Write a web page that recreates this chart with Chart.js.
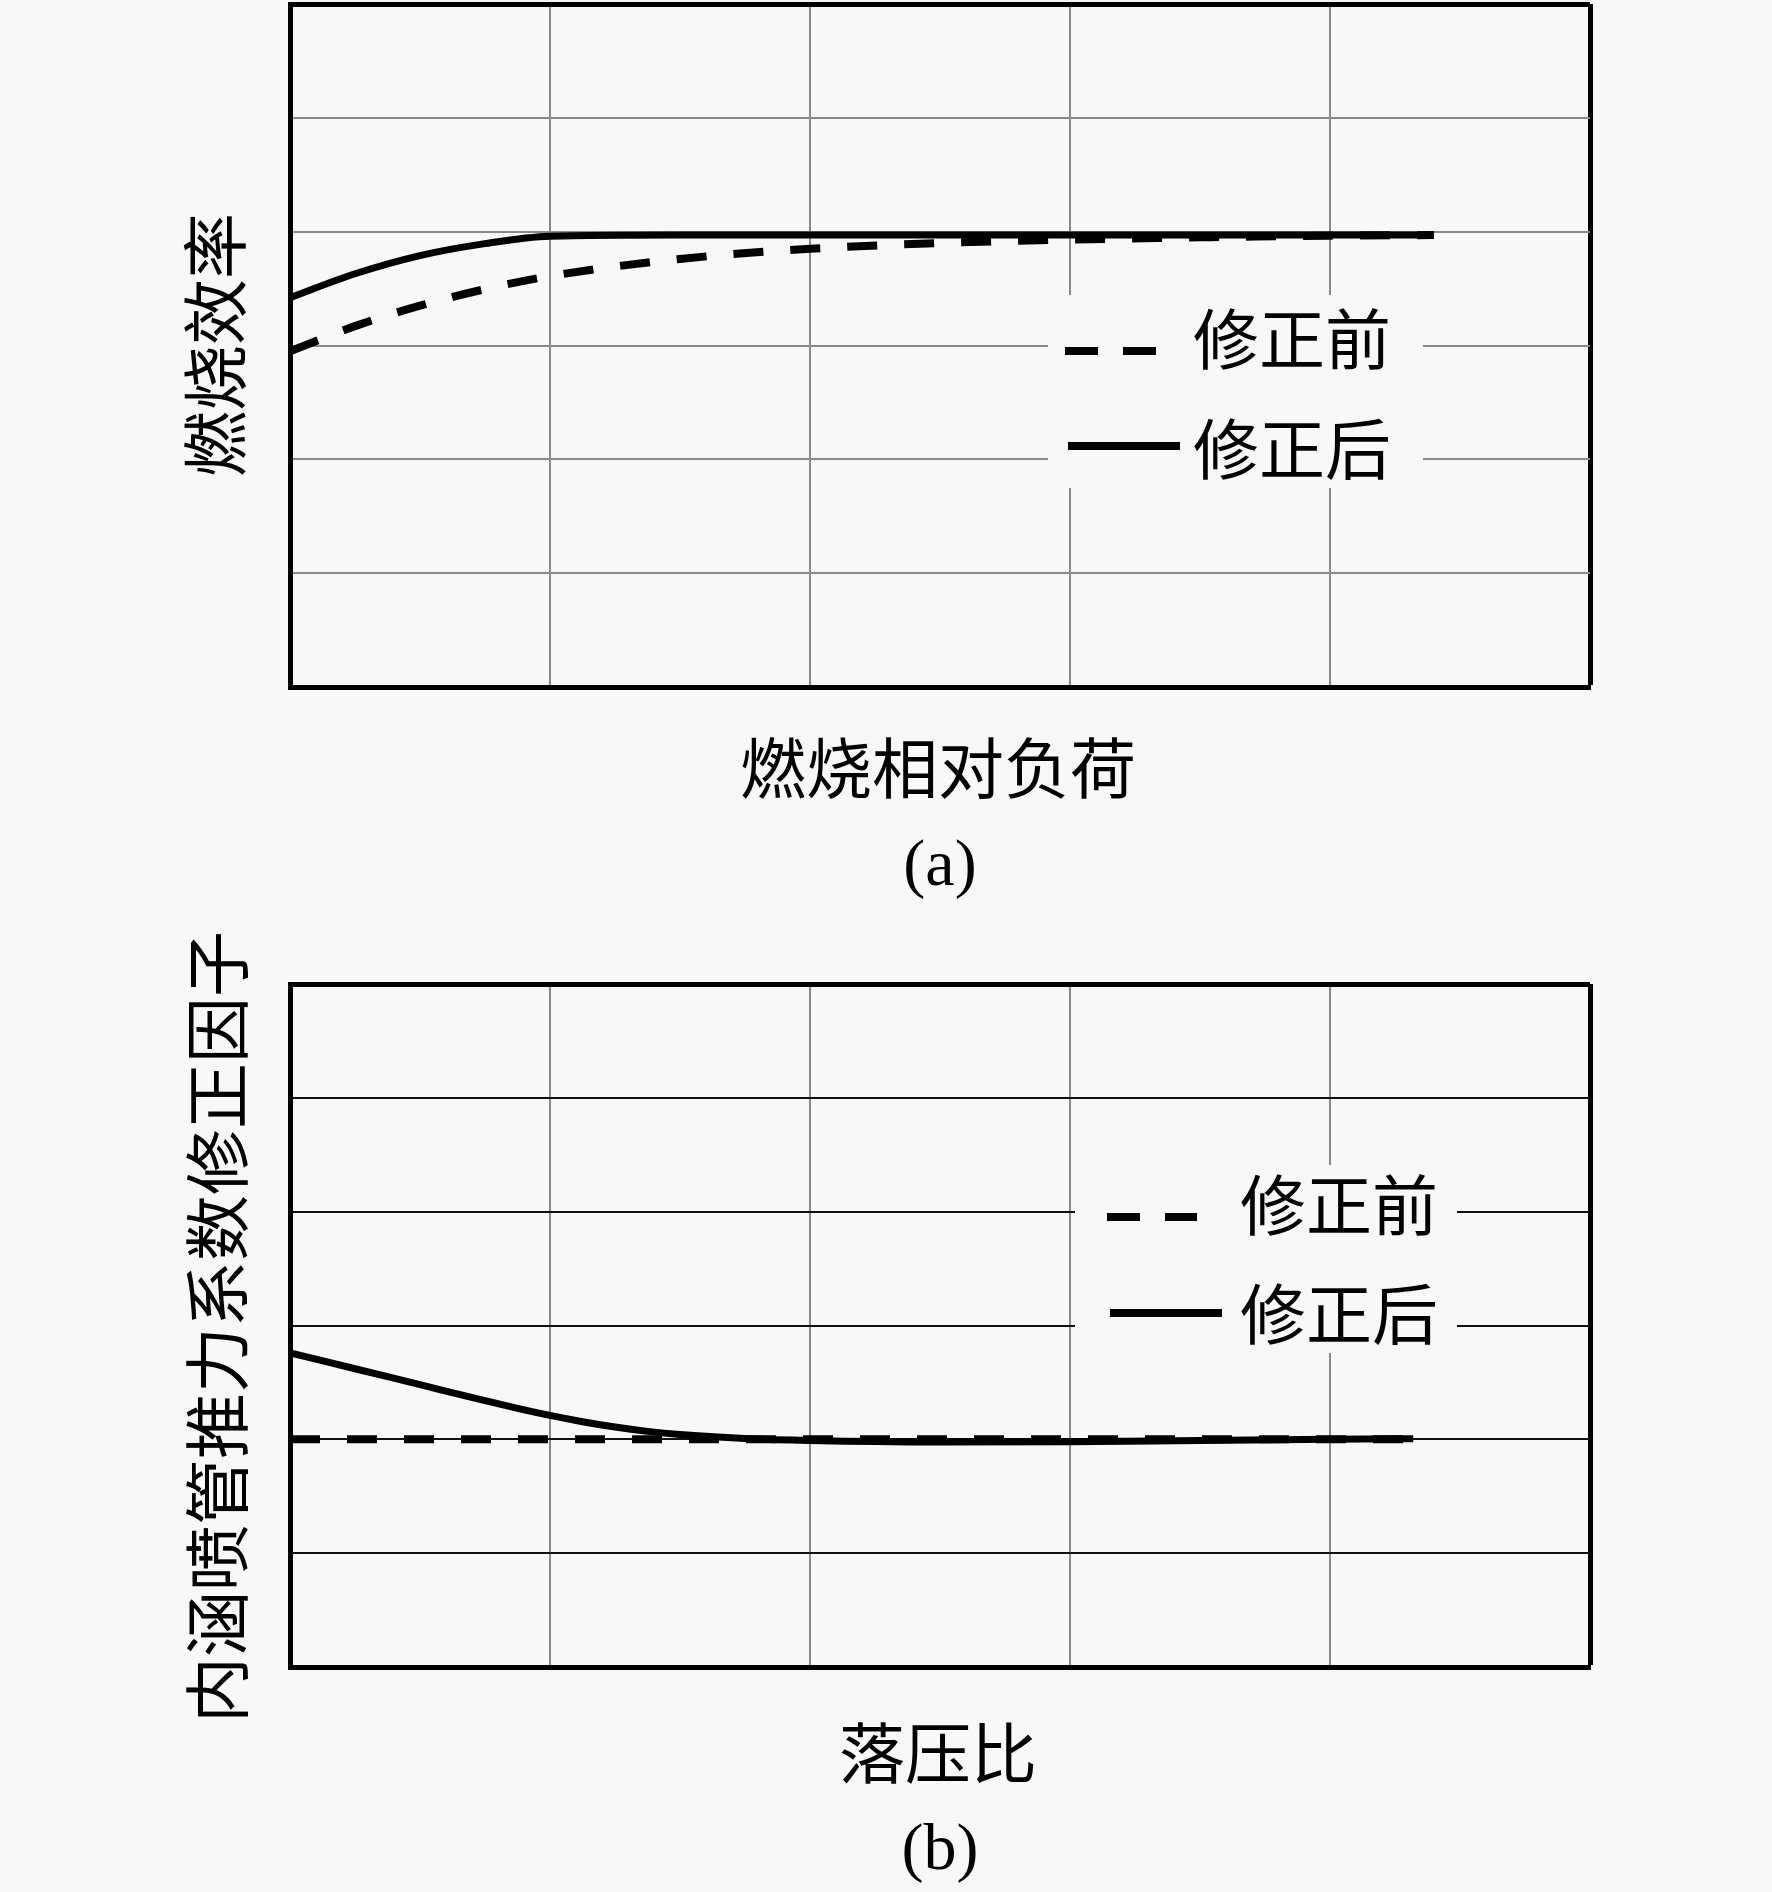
<!DOCTYPE html>
<html>
<head>
<meta charset="utf-8">
<script src="https://cdn.jsdelivr.net/npm/chart.js@4.4.0/dist/chart.umd.min.js"></script>
<style>
  body { margin: 0; background: #f8f8f8; width: 1772px; height: 1892px; position: relative; overflow: hidden;
         font-family: "Noto Sans CJK SC", sans-serif; color: #000; }
  canvas { position: absolute; left: 0; }
  .txt { position: absolute; font-size: 66px; line-height: 80px; height: 80px; white-space: nowrap;
         transform: translate(-50%, -50%); }
  .ytitle { transform: translate(-50%, -50%) rotate(-90deg); }
  .cap { font-family: "Liberation Serif", serif; }
  .legend { position: absolute; background: #f8f8f8; }
  .legend svg { position: absolute; left: 0; top: 0; }
  .legend span { position: absolute; font-size: 66px; line-height: 80px; white-space: nowrap; }
</style>
</head>
<body>
<canvas id="chartA" width="1772" height="946" style="top:0"></canvas>
<canvas id="chartB" width="1772" height="946" style="top:946px"></canvas>

<div class="txt ytitle" style="left:211px; top:345px">燃烧效率</div>
<div class="txt" style="left:938px; top:764px">燃烧相对负荷</div>
<div class="txt cap" style="left:940px; top:863px">(a)</div>

<div class="txt ytitle" style="left:213px; top:1327px">内涵喷管推力系数修正因子</div>
<div class="txt" style="left:938px; top:1749px">落压比</div>
<div class="txt cap" style="left:940px; top:1847px">(b)</div>

<div class="legend" style="left:1048px; top:295px; width:375px; height:193px">
  <svg width="375" height="193">
    <line x1="17" y1="56" x2="108" y2="56" stroke="#000" stroke-width="8" stroke-dasharray="33 25"/>
    <line x1="20" y1="151" x2="132" y2="151" stroke="#000" stroke-width="8"/>
  </svg>
  <span style="left:145px; top:0px">修正前</span>
  <span style="left:145px; top:110px">修正后</span>
</div>

<div class="legend" style="left:1075px; top:1165px; width:382px; height:188px">
  <svg width="382" height="188">
    <line x1="32" y1="52" x2="122" y2="52" stroke="#000" stroke-width="8" stroke-dasharray="33 25"/>
    <line x1="35" y1="148" x2="147" y2="148" stroke="#000" stroke-width="8"/>
  </svg>
  <span style="left:165px; top:-4px">修正前</span>
  <span style="left:165px; top:105px">修正后</span>
</div>

<script>
// (a) combustion efficiency vs relative combustion load (no tick values in the figure)
const loadX = [0, 0.25, 0.5, 0.75, 1.0, 1.5, 2, 2.5, 3, 3.5, 4, 4.4];
const effBefore = [2.95, 3.17, 3.35, 3.495, 3.61, 3.76, 3.85, 3.90, 3.93, 3.95, 3.965, 3.97];
const effAfter = [3.42, 3.63, 3.79, 3.895, 3.96, 3.97, 3.97, 3.97, 3.97, 3.97, 3.97, 3.97];

// (b) core nozzle thrust coefficient correction factor vs pressure ratio
const prX = [0, 0.25, 0.5, 0.75, 0.875, 1.0, 1.125, 1.25, 1.375, 1.5, 1.75, 2, 2.5, 3, 3.5, 4, 4.32];
const factorBefore = [2.0, 2.0, 2.0, 2.0, 2.0, 2.0, 2.0, 2.0, 2.0, 2.0, 2.0, 2.0, 2.0, 2.0, 2.0, 2.0, 2.0];
const factorAfter = [2.76, 2.62, 2.48, 2.34, 2.272, 2.21, 2.155, 2.108, 2.07, 2.042, 2.008, 1.99, 1.977, 1.978, 1.99, 2.0, 2.005];

const seriesNames = ['修正前', '修正后'];

const toPoints = (xs, ys) => xs.map((x, i) => ({ x: x, y: ys[i] }));

const makeChart = (canvasId, xs, before, after, xMax, yMax, hGridColor, padTop) => {
    const ctx = document.getElementById(canvasId).getContext('2d');
    return new Chart(ctx, {
        type: 'line',
        data: {
            datasets: [
                {
                    label: seriesNames[0],
                    data: toPoints(xs, before),
                    borderColor: '#000',
                    borderWidth: 8,
                    borderDash: [30, 27],
                    pointRadius: 0,
                    cubicInterpolationMode: 'monotone',
                    fill: false,
                },
                {
                    label: seriesNames[1],
                    data: toPoints(xs, after),
                    borderColor: '#000',
                    borderWidth: 7,
                    pointRadius: 0,
                    cubicInterpolationMode: 'monotone',
                    fill: false,
                },
            ],
        },
        options: {
            responsive: false,
            devicePixelRatio: 1,
            animation: false,
            layout: { padding: { left: 290, right: 182, top: padTop, bottom: 946 - padTop - 683 } },
            plugins: {
                legend: { display: false }, // legend is drawn as html on top
                tooltip: { enabled: false },
            },
            scales: {
                x: {
                    type: 'linear',
                    min: 0,
                    max: xMax,
                    ticks: { display: false, stepSize: 1 },
                    grid: {
                        drawTicks: false,
                        tickLength: 0,
                        color: (c) => (c.tick && c.tick.value === xMax ? '#000' : '#8a8a8a'),
                        lineWidth: (c) => (c.tick && c.tick.value === xMax ? 5 : 2),
                    },
                    border: { color: '#000', width: 5 },
                },
                y: {
                    min: 0,
                    max: yMax,
                    ticks: { display: false, stepSize: 1 },
                    grid: {
                        drawTicks: false,
                        tickLength: 0,
                        color: (c) => (c.tick && c.tick.value === yMax ? '#000' : hGridColor),
                        lineWidth: (c) => (c.tick && c.tick.value === yMax ? 5 : 2),
                    },
                    border: { color: '#000', width: 5 },
                },
            },
        },
    });
};

makeChart('chartA', loadX, effBefore, effAfter, 5, 6, '#8a8a8a', 4);
makeChart('chartB', prX, factorBefore, factorAfter, 5, 6, '#111', 38);
</script>
</body>
</html>
